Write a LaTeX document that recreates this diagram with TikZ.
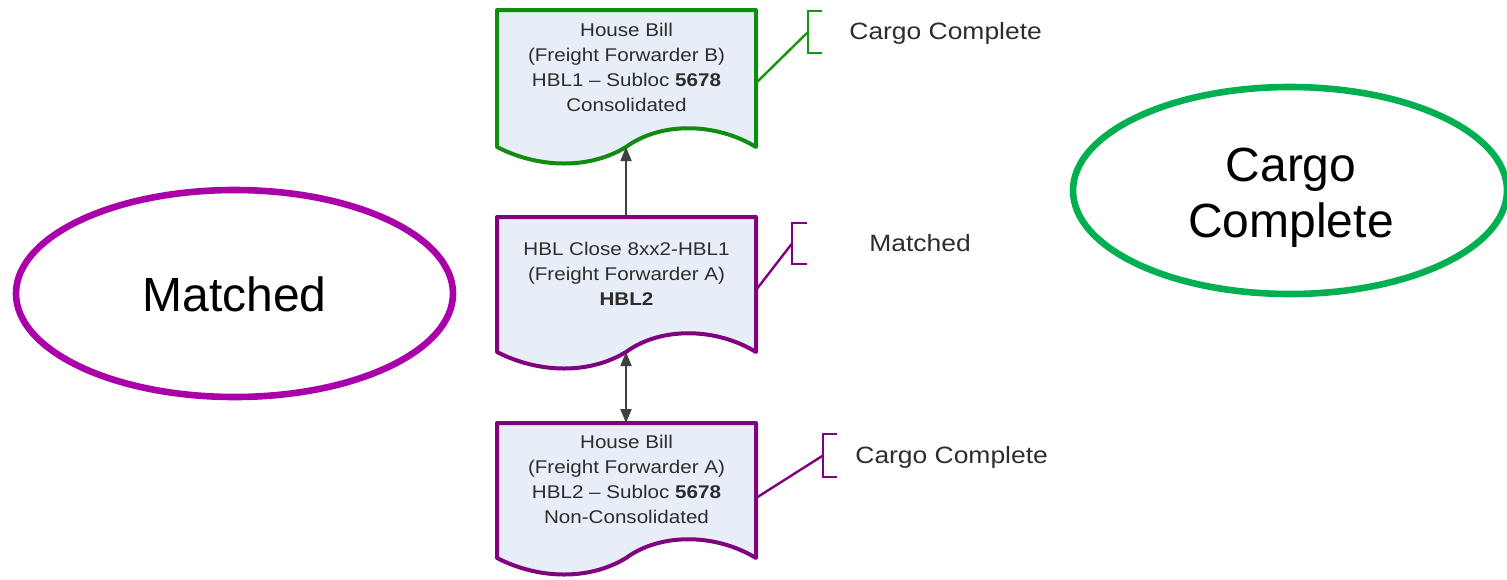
\documentclass[tikz,border=0pt]{standalone}
\usepackage{fontspec}
\setmainfont{Liberation Sans}
\newfontfamily\docfont[FakeStretch=1.12]{Liberation Sans}
\usetikzlibrary{shapes.geometric,arrows.meta}
\definecolor{docfill}{RGB}{232,238,247}
\definecolor{dgreen}{RGB}{16,140,16}
\definecolor{cgreen}{RGB}{20,150,20}
\definecolor{dpurple}{RGB}{128,0,128}
\definecolor{ellmag}{RGB}{170,0,170}
\definecolor{ellgreen}{RGB}{0,176,80}
\definecolor{txt}{RGB}{45,45,45}
\tikzset{
 docbox/.style={fill=docfill, line width=2pt, line join=round},
 doctext/.style={align=center, inner sep=0pt, text=txt, font=\docfont\fontsize{9.2}{12.5}\selectfont},
 lab/.style={anchor=base west, inner sep=0pt, text=txt, font=\docfont\fontsize{11.8}{13}\selectfont},
 brk/.style={line width=1.3pt},
 conn/.style={line width=1.2pt},
 arr/.style={draw=black!75, line width=0.9pt},
 bigell/.style={ellipse, draw, line width=3.3pt, inner sep=0pt},
 biglab/.style={align=center, inner sep=0pt, font=\fontsize{24}{28}\selectfont},
}
\newcommand{\mydocshape}[4]{%
 \path[docbox, draw=#4] (497,#2) -- (756,#2) -- (756,#3)
   .. controls (715,{#3-25}) and (660,{#3-25}) .. (626,#3)
   .. controls (590,{#3+22}) and (540,{#3+22}) .. (497,#3) -- cycle;
 \coordinate (#1-top) at (626,#2);
 \coordinate (#1-bot) at (626,#3);
}
\begin{document}
\begin{tikzpicture}[x=0.5pt,y=-0.5pt, >={Triangle[length=7pt,width=5.5pt]}]
\fill[white] (0,0) rectangle (1507,579);
\useasboundingbox (0,0) rectangle (1507,579);

% ellipses
\node[bigell, draw=ellmag, minimum width=218.5pt, minimum height=103.5pt] (ellA) at (234.5,293.5) {};
\node[biglab] (labA) at (234.5,294.5) {Matched};
\node[bigell, draw=ellgreen, minimum width=217pt, minimum height=103.5pt] (ellB) at (1290,190.5) {};
\node[biglab] (labB) at (1291,197.5) {Cargo\\Complete};

% documents
\mydocshape{d1}{10}{147}{dgreen}
\mydocshape{d2}{217}{352}{dpurple}
\mydocshape{d3}{423}{558}{dpurple}

\node[doctext] (t1) at (626.5,67.5) {House Bill\\(Freight Forwarder B)\\HBL1 – Subloc \textbf{5678}\\Consolidated};
\node[doctext] (t2) at (626.5,274) {HBL Close 8xx2-HBL1\\(Freight Forwarder A)\\\textbf{HBL2}};
\node[doctext] (t3) at (626.5,479.5) {House Bill\\(Freight Forwarder A)\\HBL2 – Subloc \textbf{5678}\\Non-Consolidated};

% arrows
\draw[arr,->] (d2-top) -- (d1-bot);
\draw[arr,<->] (d2-bot) -- (d3-top);

% annotations
\coordinate (d1-r) at (756,83);
\coordinate (d2-r) at (756,290);
\coordinate (d3-r) at (756,498);
\coordinate (b1) at (808,32);
\coordinate (b2) at (792,243.5);
\coordinate (b3) at (823,455.5);
\draw[brk, cgreen] (822,11) -- (808,11) -- (808,53) -- (822,53);
\draw[brk, dpurple] (807,223) -- (792,223) -- (792,264) -- (807,264);
\draw[brk, dpurple] (837,434) -- (823,434) -- (823,477) -- (837,477);
\draw[conn, cgreen] (d1-r) -- (b1);
\draw[conn, dpurple] (d2-r) -- (b2);
\draw[conn, dpurple] (d3-r) -- (b3);

\node[lab] (l1) at (849,39) {Cargo Complete};
\node[lab] (l2) at (869,251) {Matched};
\node[lab] (l3) at (855,463) {Cargo Complete};
\end{tikzpicture}
\end{document}
